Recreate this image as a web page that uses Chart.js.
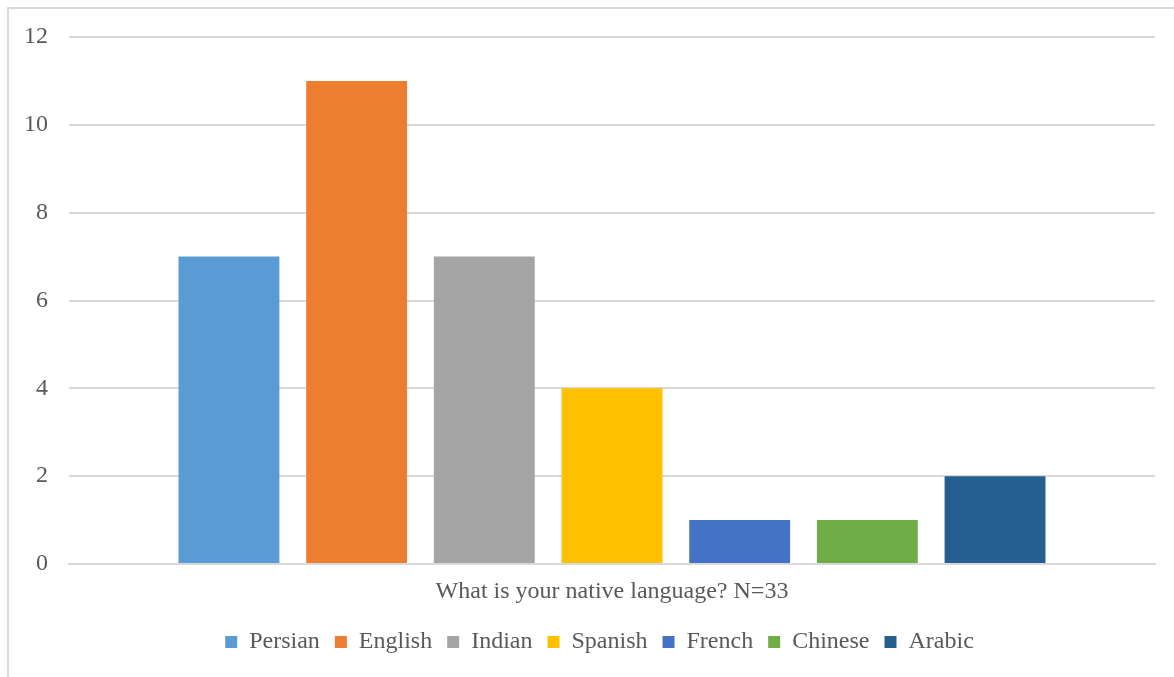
<!DOCTYPE html>
<html>
<head>
<meta charset="utf-8">
<script src="https://cdn.jsdelivr.net/npm/chart.js@4"></script>
<style>
  html, body { margin: 0; padding: 0; background: #fff; overflow: hidden; }
  #frame { position: absolute; left: 7px; top: 7px; width: 1200px; height: 700px; border: 2px solid #d9d9d9; box-sizing: border-box; }
  #wrap { position: absolute; left: 0; top: 0; width: 1174px; height: 677px; }
</style>
</head>
<body>
<div id="frame"></div>
<div id="wrap"><canvas id="chart"></canvas></div>
<script>
// survey answers, one bar per language
const question = 'What is your native language? N=33';
const languages = ['Persian', 'English', 'Indian', 'Spanish', 'French', 'Chinese', 'Arabic'];
const counts = [7, 11, 7, 4, 1, 1, 2];
const barColors = ['#5B9BD5', '#ED7D31', '#A5A5A5', '#FFC000', '#4472C4', '#70AD47', '#255E91'];
const yTicks = [0, 2, 4, 6, 8, 10, 12];

const textColor = '#595959';
const serif = "'Liberation Serif', 'Times New Roman', serif";

const datasets = languages.map((lang, i) => ({
  label: lang,
  data: [counts[i]],
  backgroundColor: barColors[i],
  borderWidth: 0,
  barPercentage: 0.79,
  categoryPercentage: 0.823
}));

// the original legend is centred a bit to the right of the plot, nudge it over
const legendShift = {
  id: 'legendShift',
  afterLayout(chart) {
    chart.legend.left += 22;
    chart.legend.right += 22;
  }
};

new Chart(document.getElementById('chart'), {
  type: 'bar',
  data: { labels: [question], datasets: datasets },
  plugins: [legendShift],
  options: {
    responsive: true,
    maintainAspectRatio: false,
    animation: false,
    layout: { padding: { left: 0, top: 37, right: 19, bottom: 13 } },
    scales: {
      x: {
        grid: { display: false, drawTicks: false },
        border: { display: true, color: '#d9d9d9', width: 2 },
        ticks: { color: textColor, font: { family: serif, size: 24 }, padding: 13 },
        afterFit: (scale) => { scale.height = 51; }
      },
      y: {
        min: 0,
        max: 12,
        afterBuildTicks: (scale) => { scale.ticks = yTicks.map(v => ({ value: v })); },
        grid: { color: '#d9d9d9', lineWidth: 2, drawTicks: false },
        border: { display: false },
        ticks: { color: textColor, font: { family: serif, size: 24 }, padding: 21 },
        afterFit: (scale) => { scale.width = 69; }
      }
    },
    plugins: {
      legend: {
        position: 'bottom',
        labels: {
          color: textColor,
          font: { family: serif, size: 24 },
          boxWidth: 12,
          boxHeight: 12,
          padding: 15
        }
      },
      tooltip: { enabled: false }
    }
  }
});
</script>
</body>
</html>
